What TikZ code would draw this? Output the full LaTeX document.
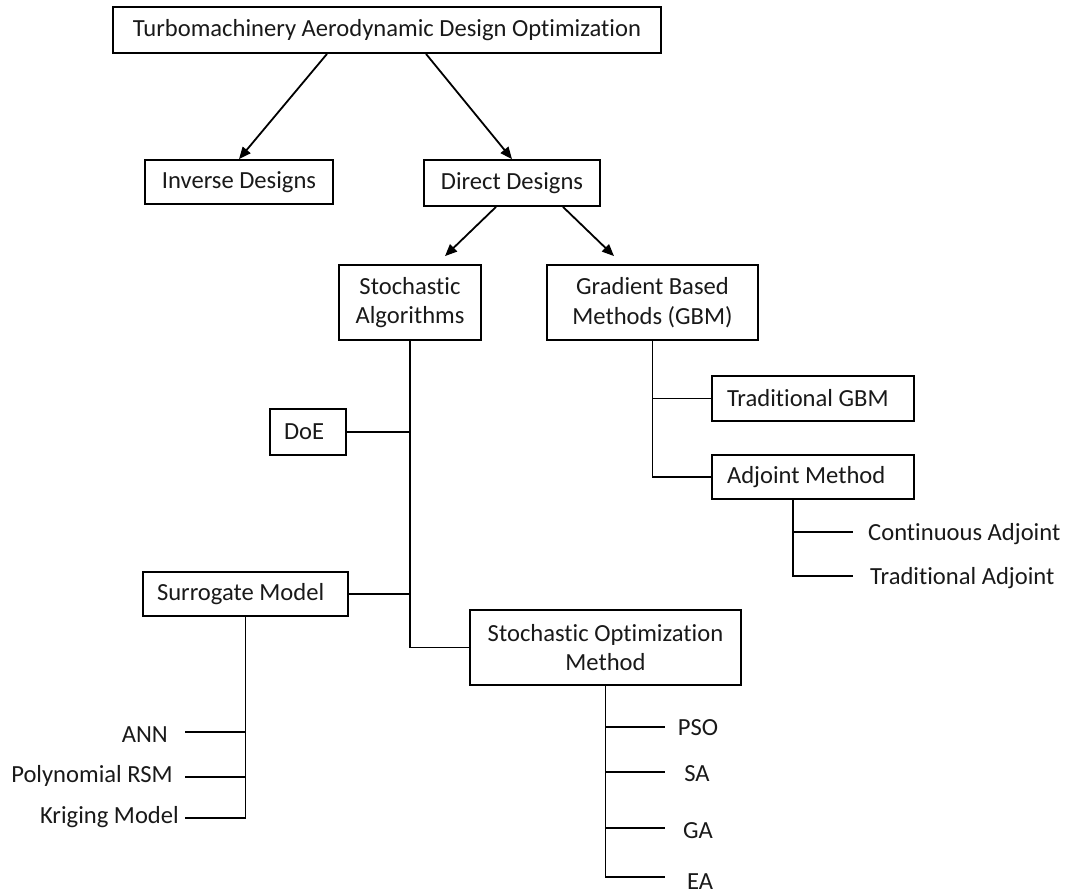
\documentclass[tikz,border=0pt]{standalone}
\usepackage{fontspec}
\setmainfont{Carlito}[Ligatures={NoCommon,NoContextual}]
\usetikzlibrary{arrows.meta,calc}
\newcommand\dfont{\fontsize{24.6}{29.5}\selectfont}
\begin{document}
\begin{tikzpicture}[x=1pt,y=-1pt,
  ln/.style={draw=black,line width=1.8pt},
  arr/.style={ln,-{Triangle[length=12pt,width=10pt]}},
  box/.style={draw=black,line width=1.8pt,inner sep=0pt,align=center,font=\dfont,text=black!90},
  leaf/.style={inner sep=0pt,font=\dfont,text=black!90}]
\useasboundingbox (0,0) rectangle (1065,896);
% boxes
\node[box,minimum width=548pt,minimum height=46pt] (top) at (387,30) {Turbomachinery Aerodynamic Design Optimization};
\node[box,minimum width=188pt,minimum height=44pt] (inv) at (239,182) {Inverse Designs};
\node[box,minimum width=176pt,minimum height=46pt] (dir) at (512,183) {Direct Designs};
\node[box,minimum width=142pt,minimum height=75pt] (sa) at (410,302.5) {Stochastic\\Algorithms};
\node[box,minimum width=211pt,minimum height=75pt] (gbm) at (652.5,302.5) {Gradient Based\\Methods (GBM)};
\node[box,minimum width=76pt,minimum height=46pt] (doe) at (308,432) {\makebox[48pt][l]{DoE}};
\node[box,minimum width=202pt,minimum height=45pt] (tgbm) at (813,398.5) {\makebox[172pt][l]{Traditional GBM}};
\node[box,minimum width=202pt,minimum height=44pt] (adj) at (813,477) {\makebox[172pt][l]{Adjoint Method}};
\node[box,minimum width=205pt,minimum height=44pt] (sur) at (245.5,594) {\makebox[177pt][l]{Surrogate Model}};
\node[box,minimum width=271pt,minimum height=75pt] (som) at (605.5,647.5) {Stochastic Optimization\\Method};
% leaves
\node[leaf,anchor=base west] (ca) at (868,540) {Continuous Adjoint};
\node[leaf,anchor=base west] (ta) at (870,584) {Traditional Adjoint};
\node[leaf,anchor=base] (pso) at (698,735) {PSO};
\node[leaf,anchor=base] (sav) at (697,781) {SA};
\node[leaf,anchor=base] (ga) at (698,838) {GA};
\node[leaf,anchor=base] (ea) at (700,889) {EA};
\node[leaf,anchor=base east] (ann) at (168,742) {ANN};
\node[leaf,anchor=base east] (prsm) at (173,782) {Polynomial RSM};
\node[leaf,anchor=base east] (krg) at (179,823) {Kriging Model};
% branch end points
\coordinate (a1) at (853,532);
\coordinate (a2) at (853,576);
\coordinate (av) at ($(adj.south)+(-20,0)$);
\coordinate (e1) at (665,727);
\coordinate (e2) at (665,772);
\coordinate (e3) at (665,828);
\coordinate (e4) at (665,877);
\coordinate (l1) at (185,732);
\coordinate (l2) at (185,777);
\coordinate (l3) at (185,818);
% arrows
\draw[arr] ($(top.south)+(-60,0)$) -- (inv.north);
\draw[arr] ($(top.south)+(39,0)$) -- (dir.north);
\draw[arr] ($(dir.south)+(-16,0)$) -- ($(sa.north)+(35,-8)$);
\draw[arr] ($(dir.south)+(51,0)$) -- ($(gbm.north)+(-38.5,-8)$);
% stochastic tree
\draw[ln] (sa.south) |- (som.west);
\draw[ln] (doe.east) -- (doe.east -| sa.south);
\draw[ln] (sur.east) -- (sur.east -| sa.south);
% gbm tree
\draw[ln] (gbm.south) |- (adj.west);
\draw[ln] (tgbm.west) -- (tgbm.west -| gbm.south);
% adjoint
\draw[ln] (av) |- (a2);
\draw[ln] (av |- a1) -- (a1);
% stochastic optimization leaves
\draw[ln] (som.south) |- (e4);
\draw[ln] (som.south |- e1) -- (e1);
\draw[ln] (som.south |- e2) -- (e2);
\draw[ln] (som.south |- e3) -- (e3);
% surrogate leaves
\draw[ln] (sur.south) |- (l3);
\draw[ln] (sur.south |- l1) -- (l1);
\draw[ln] (sur.south |- l2) -- (l2);
\end{tikzpicture}
\end{document}
